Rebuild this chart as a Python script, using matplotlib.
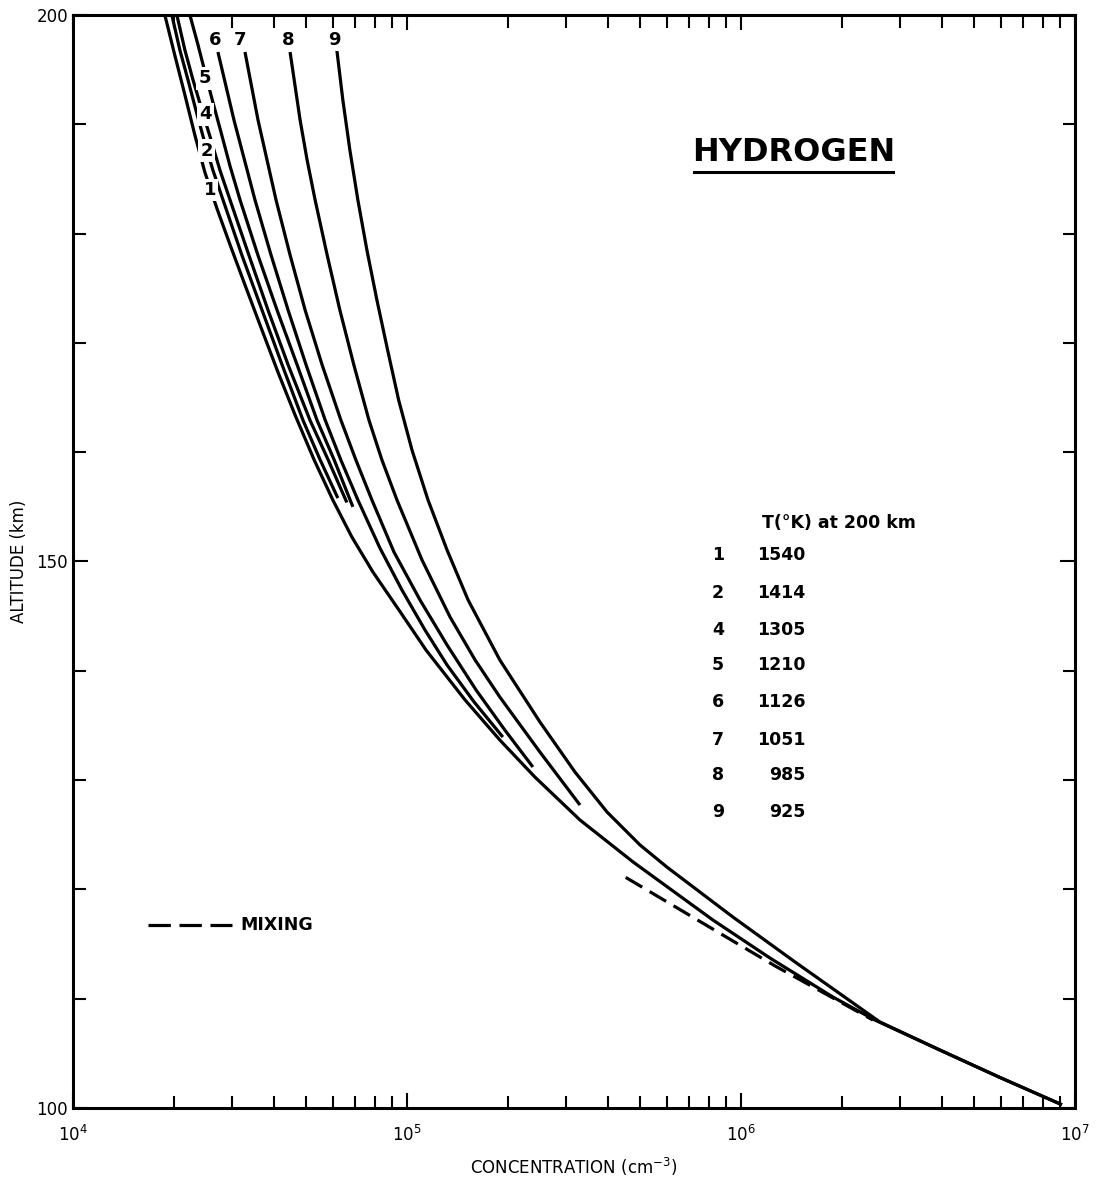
import matplotlib
matplotlib.use("Agg")
import matplotlib.pyplot as plt
from matplotlib.ticker import FixedLocator, MultipleLocator, LogLocator, NullFormatter
import numpy as np

# altitude (km) and log10 concentration (cm-3)
alt_1 = [200.0, 196.3, 192.7, 189.0, 185.6, 182.3, 179.0, 175.3, 171.4, 167.3, 163.4, 159.3, 155.63,
         152.24, 149.04, 145.29, 141.90, 137.33, 133.67, 130.28, 126.35, 122.51, 117.20, 113.72,
         110.16, 108.05, 105.3, 102.8, 100.3]
logn_1 = [4.275, 4.305, 4.335, 4.365, 4.395, 4.431, 4.470, 4.515, 4.563, 4.614, 4.665, 4.722, 4.778,
          4.835, 4.898, 4.982, 5.057, 5.174, 5.278, 5.383, 5.518, 5.677, 5.916, 6.087,
          6.275, 6.401, 6.596, 6.775, 6.961]

alt_2 = [200.0, 196.8, 194.1, 191.3, 188.6, 185.8, 183.1, 178.0, 173.0, 168.0, 162.9, 159.3, 155.8]
logn_2 = [4.296, 4.320, 4.344, 4.368, 4.392, 4.419, 4.449, 4.506, 4.566, 4.626, 4.689, 4.740, 4.793]

alt_4 = [200.0, 196.8, 194.1, 191.3, 188.6, 185.8, 183.1, 178.0, 173.0, 168.0, 162.9, 159.3, 155.4]
logn_4 = [4.311, 4.335, 4.359, 4.386, 4.413, 4.440, 4.470, 4.527, 4.584, 4.644, 4.710, 4.764, 4.820]

alt_5 = [200.0, 197.3, 194.8, 192.0, 189.3, 186.2, 183.1, 178.0, 173.0, 168.0, 162.9, 159.3, 155.0]
logn_5 = [4.350, 4.374, 4.395, 4.419, 4.443, 4.470, 4.500, 4.554, 4.611, 4.671, 4.731, 4.782, 4.838]

alt_6 = [196.61, 190.39, 183.07, 178.04, 173.01, 167.98, 162.95, 159.29, 155.63, 151.23, 147.39,
         143.73, 140.53, 137.15, 133.94]
logn_6 = [4.434, 4.482, 4.545, 4.593, 4.644, 4.698, 4.755, 4.802, 4.853, 4.919, 4.985,
          5.054, 5.120, 5.201, 5.287]

alt_7 = [196.61, 190.39, 183.07, 178.04, 173.01, 167.98, 162.95, 159.29, 155.63, 150.87, 146.48,
         142.36, 138.24, 134.58, 131.20]
logn_7 = [4.515, 4.554, 4.608, 4.650, 4.695, 4.746, 4.802, 4.847, 4.895, 4.961, 5.039,
          5.120, 5.207, 5.293, 5.377]

alt_8 = [196.61, 190.39, 186.73, 183.07, 178.04, 173.01, 167.98, 162.95, 159.29, 155.63, 150.14,
         144.92, 140.99, 137.60, 132.57, 127.72]
logn_8 = [4.650, 4.680, 4.701, 4.725, 4.761, 4.799, 4.841, 4.886, 4.925, 4.970, 5.045,
          5.129, 5.204, 5.278, 5.398, 5.518]

alt_9 = [196.80, 192.22, 187.65, 183.07, 178.50, 173.92, 169.35, 164.78, 160.20, 155.63, 151.05,
         146.48, 140.99, 135.32, 130.74, 127.08, 124.06, 122.05, 117.47, 113.36, 107.87,
         105.3, 102.8, 100.3]
logn_9 = [4.790, 4.808, 4.829, 4.853, 4.880, 4.910, 4.942, 4.975, 5.015, 5.063, 5.120,
          5.183, 5.278, 5.398, 5.503, 5.599, 5.698, 5.778, 5.976, 6.162, 6.416,
          6.596, 6.775, 6.961]

# mixing profile (dashed)
alt_mix = [121.1, 117.2, 113.0, 108.05]
logn_mix = [5.655, 5.870, 6.102, 6.395]

curve_labels = ["1", "2", "4", "5", "6", "7", "8", "9"]
label_alt = [184.0, 187.6, 190.9, 194.2, 197.7, 197.7, 197.7, 197.7]
label_logn = [4.410, 4.401, 4.398, 4.395, 4.425, 4.500, 4.644, 4.784]

table_num = ["1", "2", "4", "5", "6", "7", "8", "9"]
table_temp = ["1540", "1414", "1305", "1210", "1126", "1051", "985", "925"]
table_alt = [150.6, 147.1, 143.7, 140.5, 137.1, 133.7, 130.5, 127.1]

fig = plt.figure(figsize=(11.04, 11.78), dpi=100)
ax = fig.add_axes([0.0661, 0.0594, 0.9076, 0.9279])

lw = 2.3
curves = [(alt_1, logn_1), (alt_2, logn_2), (alt_4, logn_4), (alt_5, logn_5),
          (alt_6, logn_6), (alt_7, logn_7), (alt_8, logn_8), (alt_9, logn_9)]
for a, l in curves:
    ax.plot(10 ** np.array(l), a, color="black", lw=lw, solid_capstyle="butt",
            solid_joinstyle="round", zorder=2)

ax.plot(10 ** np.array(logn_mix), alt_mix, color="black", lw=lw, dashes=(6, 2.7), zorder=2)

for t, a, l in zip(curve_labels, label_alt, label_logn):
    ax.text(10 ** l, a, t, ha="center", va="center", fontsize=13, fontweight="bold",
            bbox=dict(facecolor="white", edgecolor="none", pad=1.5), zorder=3)

ax.set_xscale("log")
ax.set_xlim(1e4, 1e7)
ax.set_ylim(100, 200)

ax.xaxis.set_major_locator(LogLocator(base=10))
ax.xaxis.set_minor_locator(LogLocator(base=10, subs=np.arange(2, 10)))
ax.xaxis.set_minor_formatter(NullFormatter())
ax.yaxis.set_major_locator(FixedLocator([100, 150, 200]))
ax.yaxis.set_minor_locator(MultipleLocator(10))

ax.tick_params(which="both", direction="in", top=True, right=True, width=1.5, labelsize=12)
ax.tick_params(which="major", length=11)
ax.tick_params(which="minor", length=9)
ax.tick_params(axis="x", which="major", pad=12)
for s in ax.spines.values():
    s.set_linewidth(2.2)

ax.set_xlabel("CONCENTRATION (cm$^{-3}$)", fontsize=12, labelpad=8)
ax.set_ylabel("ALTITUDE (km)", fontsize=12, labelpad=6)

# title
ax.text(10 ** 6.159, 187.4, "HYDROGEN", ha="center", va="center", fontsize=23, fontweight="bold")
ax.plot([10 ** 5.86, 10 ** 6.455], [185.6, 185.6], color="black", lw=2.2)

# temperature table
ax.text(10 ** 6.063, 153.5, "T(°K) at 200 km", ha="left", va="center", fontsize=12.5, fontweight="bold")
for n, tv, a in zip(table_num, table_temp, table_alt):
    ax.text(10 ** 5.931, a, n, ha="center", va="center", fontsize=12.5, fontweight="bold")
    ax.text(10 ** 6.192, a, tv, ha="right", va="center", fontsize=12.5, fontweight="bold")

# legend for mixing
ax.plot([10 ** 4.225, 10 ** 4.476], [116.7, 116.7], color="black", lw=lw, dashes=(7, 2.7))
ax.text(10 ** 4.50, 116.7, "MIXING", ha="left", va="center", fontsize=12.5, fontweight="bold")

fig.savefig("out.png", dpi=100)
